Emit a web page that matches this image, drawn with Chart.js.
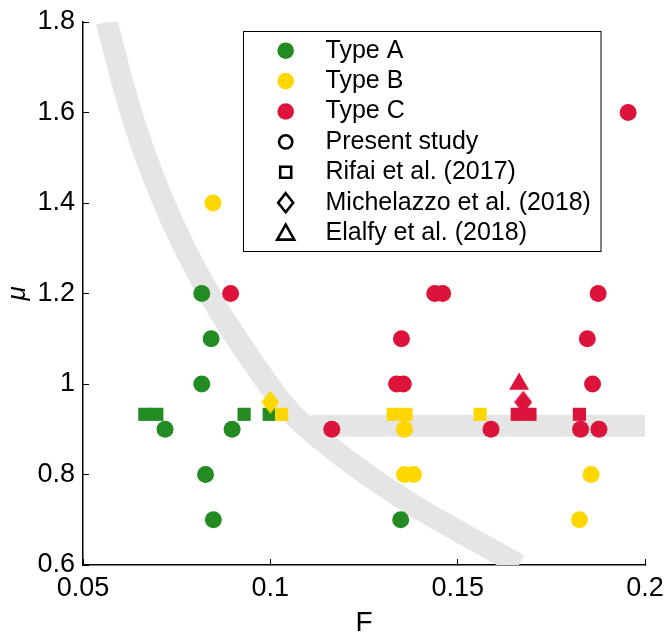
<!DOCTYPE html>
<html>
<head>
<meta charset="utf-8">
<script src="https://cdn.jsdelivr.net/npm/chart.js@4"></script>
<style>
  body { margin: 0; background: #fff; }
  #wrap { width: 664px; height: 637px; }
</style>
</head>
<body>
<div id="wrap"><canvas id="chart"></canvas></div>
<script>
// Present study (circles)
const presentA_F  = [0.0817, 0.0842, 0.0817, 0.0719, 0.0898, 0.0827, 0.0848, 0.1348];
const presentA_mu = [1.2, 1.1, 1.0, 0.9, 0.9, 0.8, 0.7, 0.7];
const presentB_F  = [0.0847, 0.1358, 0.1358, 0.1382, 0.1856, 0.1825];
const presentB_mu = [1.4, 0.9, 0.8, 0.8, 0.8, 0.7];
const presentC_F  = [0.0894, 0.1439, 0.146, 0.1875, 0.135, 0.1846, 0.1337, 0.1355, 0.186, 0.1164, 0.1589, 0.1828, 0.1877, 0.1955];
const presentC_mu = [1.2, 1.2, 1.2, 1.2, 1.1, 1.1, 1.0, 1.0, 1.0, 0.9, 0.9, 0.9, 0.9, 1.6];

// Rifai et al. (2017) (squares)
const rifaiA_F  = [0.0665, 0.0697, 0.093, 0.0997];
const rifaiA_mu = [0.933, 0.933, 0.933, 0.933];
const rifaiB_F  = [0.103, 0.1328, 0.1362, 0.156];
const rifaiB_mu = [0.933, 0.933, 0.933, 0.933];
const rifaiC_F  = [0.1659, 0.1693, 0.1825];
const rifaiC_mu = [0.933, 0.933, 0.933];

// Michelazzo et al. (2018) (diamonds), Elalfy et al. (2018) (triangle)
const micheB_F = [0.1],    micheB_mu = [0.96];
const micheC_F = [0.1675], micheC_mu = [0.96];
const elalfyC_F = [0.1664], elalfyC_mu = [1.0];

// grey guide bands
const curveF  = [0.0563, 0.0628, 0.0716, 0.0836, 0.0994, 0.1052, 0.1159, 0.1346, 0.1664];
const curveMu = [1.8, 1.6, 1.4, 1.2, 1.0, 0.939, 0.861, 0.751, 0.6];
const flatF  = [0.111, 0.2];
const flatMu = [0.908, 0.908];

const xTicks = [0.05, 0.1, 0.15, 0.2];
const yTicks = [0.6, 0.8, 1.0, 1.2, 1.4, 1.6, 1.8];
const legendLabels = ["Type A", "Type B", "Type C", "Present study", "Rifai et al. (2017)", "Michelazzo et al. (2018)", "Elalfy et al. (2018)"];

const GREEN = "#228b22", GOLD = "#ffd700", RED = "#dc143c", BAND = "#e5e5e5";
const FONT = "'Liberation Sans', Arial, sans-serif";

const pts = (xs, ys) => xs.map((x, i) => ({ x: x, y: ys[i] }));

function makeDiamond(color) {
  const c = document.createElement("canvas");
  c.width = 18; c.height = 23;
  const g = c.getContext("2d");
  g.fillStyle = color;
  g.beginPath();
  g.moveTo(9, 0); g.lineTo(18, 11.5); g.lineTo(9, 23); g.lineTo(0, 11.5);
  g.closePath(); g.fill();
  return c;
}

function marker(data, color, style, radius) {
  return {
    data: data,
    backgroundColor: color,
    borderColor: color,
    borderWidth: 0,
    pointStyle: style,
    pointRadius: radius,
    pointHoverRadius: radius,
  };
}

// legend drawn inside the plot, matlab style
const boxLegend = {
  id: "boxLegend",
  afterDraw(chart) {
    const ctx = chart.ctx;
    const mx = 285.7, tx = 325.5, y0 = 50.7, step = 30.4;
    ctx.save();
    ctx.fillStyle = "#fff";
    ctx.fillRect(243.5, 31.5, 357.5, 220);
    ctx.strokeStyle = "#000";
    ctx.lineWidth = 1;
    ctx.strokeRect(243.5, 31.5, 357.5, 220);

    const fills = [GREEN, GOLD, RED];
    legendLabels.forEach((lab, i) => {
      const y = y0 + i * step;
      ctx.beginPath();
      if (i < 3) {
        ctx.fillStyle = fills[i];
        ctx.arc(mx, y, 8.3, 0, Math.PI * 2);
        ctx.fill();
      } else {
        ctx.strokeStyle = "#000";
        ctx.lineWidth = 2.6;
        if (i === 3) ctx.arc(mx, y, 6.6, 0, Math.PI * 2);
        if (i === 4) ctx.rect(mx - 5.5, y - 5.5, 11, 11);
        if (i === 5) {
          ctx.moveTo(mx, y - 9.5); ctx.lineTo(mx + 7.5, y);
          ctx.lineTo(mx, y + 9.5); ctx.lineTo(mx - 7.5, y); ctx.closePath();
        }
        if (i === 6) {
          ctx.moveTo(mx, y - 8.5); ctx.lineTo(mx + 8.5, y + 6.5);
          ctx.lineTo(mx - 8.5, y + 6.5); ctx.closePath();
        }
        ctx.stroke();
      }
      ctx.fillStyle = "#000";
      ctx.font = "25px " + FONT;
      ctx.textBaseline = "middle";
      ctx.textAlign = "left";
      ctx.fillText(lab, tx, y);
    });
    ctx.restore();
  },
};

const ctx = document.getElementById("chart");

new Chart(ctx, {
  type: "scatter",
  data: {
    datasets: [
      marker(pts(presentC_F, presentC_mu), RED, "circle", 8.5),
      marker(pts(presentB_F, presentB_mu), GOLD, "circle", 8.5),
      marker(pts(presentA_F, presentA_mu), GREEN, "circle", 8.5),
      marker(pts(rifaiC_F, rifaiC_mu), RED, "rect", 9.3),
      marker(pts(micheB_F, micheB_mu), GOLD, makeDiamond(GOLD), 9),
      marker(pts(rifaiB_F, rifaiB_mu), GOLD, "rect", 9.3),
      marker(pts(rifaiA_F, rifaiA_mu), GREEN, "rect", 9.3),
      marker(pts(micheC_F, micheC_mu), RED, makeDiamond(RED), 9),
      marker(pts(elalfyC_F, elalfyC_mu), RED, "triangle", 11.5),
      {
        data: pts(curveF, curveMu),
        showLine: true,
        borderColor: BAND,
        borderWidth: 22,
        borderCapStyle: "butt",
        cubicInterpolationMode: "monotone",
        pointRadius: 0,
        order: 10,
      },
      {
        data: pts(flatF, flatMu),
        showLine: true,
        borderColor: BAND,
        borderWidth: 22,
        borderCapStyle: "butt",
        pointRadius: 0,
        order: 10,
      },
    ],
  },
  plugins: [boxLegend],
  options: {
    responsive: true,
    maintainAspectRatio: false,
    animation: false,
    layout: { padding: { left: 0, right: 19, top: 22, bottom: 0 } },
    plugins: {
      legend: { display: false },
      tooltip: { enabled: false },
    },
    scales: {
      x: {
        type: "linear",
        min: 0.05,
        max: 0.2,
        afterBuildTicks: (s) => { s.ticks = xTicks.map((v) => ({ value: v })); },
        afterFit: (s) => { s.height = 72; s.paddingLeft = 0; s.paddingRight = 0; },
        ticks: {
          color: "#000",
          padding: 13,
          font: { family: FONT, size: 27 },
          callback: (v) => String(+v.toFixed(3)),
        },
        grid: { drawOnChartArea: false, drawTicks: true, tickLength: -6, color: "#000" },
        border: { display: true, color: "#000", width: 1.5 },
        title: {
          display: true,
          text: "F",
          color: "#000",
          padding: 0,
          font: { family: FONT, size: 28, lineHeight: 1 },
        },
      },
      y: {
        min: 0.6,
        max: 1.8,
        afterBuildTicks: (s) => { s.ticks = yTicks.map((v) => ({ value: v })); },
        afterFit: (s) => { s.width = 83; s.paddingTop = 0; s.paddingBottom = 0; },
        ticks: {
          color: "#000",
          padding: 14,
          font: { family: FONT, size: 27 },
          callback: (v) => String(+v.toFixed(2)),
        },
        grid: { drawOnChartArea: false, drawTicks: true, tickLength: -6, color: "#000" },
        border: { display: true, color: "#000", width: 1.5 },
        title: {
          display: true,
          text: "μ",
          color: "#000",
          padding: { top: 5, bottom: 0 },
          font: { family: FONT, size: 26, style: "italic", lineHeight: 1 },
        },
      },
    },
  },
});
</script>
</body>
</html>
